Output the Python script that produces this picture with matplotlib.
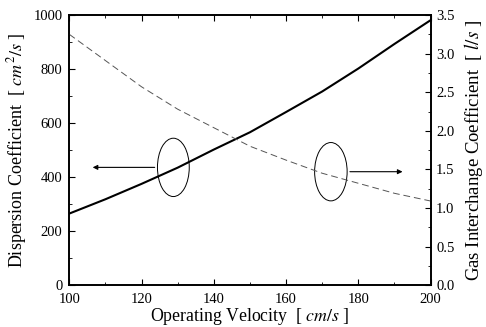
import matplotlib
matplotlib.use("Agg")
import matplotlib.pyplot as plt
from matplotlib.patches import Ellipse
from matplotlib.ticker import MultipleLocator

# valores
velocity = [100, 110, 120, 130, 140, 150, 160, 170, 180, 190, 200]
dispersion = [265, 318, 375, 435, 502, 566, 641, 717, 802, 893, 981]   # cm2/s
gas_interchange = [3.25, 2.91, 2.57, 2.28, 2.04, 1.80, 1.62, 1.45, 1.32, 1.19, 1.09]  # 1/s

plt.rcParams.update({"font.family": "Liberation Serif", "mathtext.fontset": "stix",
                     "font.size": 11})

fig = plt.figure(figsize=(4.86, 3.27), dpi=100)
ax = fig.add_axes([0.1426, 0.128, 0.7434, 0.826])
ax2 = ax.twinx()

ax.plot(velocity, dispersion, color="black", lw=1.5)
ax2.plot(velocity, gas_interchange, color="#555555", lw=0.7, ls=(0, (7, 4)))

ax.set_xlim(100, 200); ax.set_ylim(0, 1000)
ax2.set_ylim(0, 3.5)
ax.xaxis.set_major_locator(MultipleLocator(20)); ax.xaxis.set_minor_locator(MultipleLocator(10))
ax.yaxis.set_major_locator(MultipleLocator(200)); ax.yaxis.set_minor_locator(MultipleLocator(100))
ax2.yaxis.set_major_locator(MultipleLocator(0.5)); ax2.yaxis.set_minor_locator(MultipleLocator(0.25))
ax2.yaxis.set_major_formatter(plt.FormatStrFormatter("%.1f"))

ax.tick_params(which="both", direction="in", top=True, labelsize=10.5)
ax.tick_params(axis="x", pad=6); ax.tick_params(axis="y", pad=5)
ax.tick_params(which="major", length=4); ax.tick_params(which="minor", length=2.5)
ax2.tick_params(which="both", direction="in", labelsize=10.5, pad=4)
ax2.tick_params(which="major", length=4); ax2.tick_params(which="minor", length=2.5)
for a in (ax, ax2):
    for s in a.spines.values():
        s.set_linewidth(1.2)

ax.set_xlabel("Operating Velocity  [ $cm/s$ ]", fontsize=12.8, labelpad=0)
ax.set_ylabel("Dispersion Coefficient  [ $cm^2/s$ ]", fontsize=13, labelpad=3)
ax2.set_ylabel("Gas Interchange Coefficient  [ $l/s$ ]", fontsize=13.5, labelpad=5)

# elipses e setas indicando o eixo de cada curva
ax.add_patch(Ellipse((128.8, 436), 8.8, 216, fill=False, lw=0.7, color="black"))
ax.add_patch(Ellipse((172.4, 420), 9.0, 216, fill=False, lw=0.7, color="black"))
ax.annotate("", xy=(105.7, 436), xytext=(124.4, 436),
            arrowprops=dict(arrowstyle="-|>", lw=0.8, color="black", mutation_scale=7))
ax.annotate("", xy=(193, 420), xytext=(176.9, 420),
            arrowprops=dict(arrowstyle="-|>", lw=0.8, color="black", mutation_scale=7))

fig.savefig("out.png", dpi=100)
